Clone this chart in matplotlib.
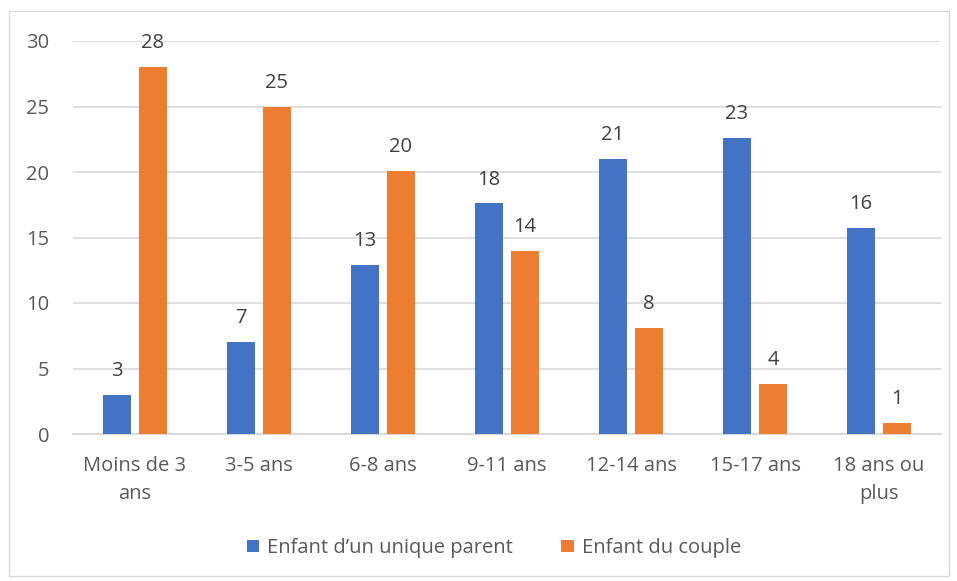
import numpy as np
import matplotlib
matplotlib.use('Agg')
import matplotlib.pyplot as plt
from matplotlib.patches import Rectangle

categories = ['Moins de 3\nans', '3-5 ans', '6-8 ans', '9-11 ans',
              '12-14 ans', '15-17 ans', '18 ans ou\nplus']
single_parent = [3.0, 7.0, 12.9, 17.6, 21.0, 22.6, 15.7]
couple = [28.0, 25.0, 20.1, 14.0, 8.1, 3.8, 0.85]
series_names = ['Enfant d\u2019un unique parent', 'Enfant du couple']

plt.rcParams['font.family'] = ['Open Sans', 'DejaVu Sans']
TXT = '#595959'
GRID = '#d9d9d9'
BLUE = '#4472c4'
ORANGE = '#ed7d31'
FS = 14.5

fig = plt.figure(figsize=(9.57, 5.81), dpi=100)
fig.patch.set_facecolor('white')
fig.patches.append(Rectangle((9 / 957, 1 - 576 / 581), 940 / 957, 565 / 581,
                             transform=fig.transFigure, fill=False,
                             edgecolor=GRID, linewidth=1))

ax = fig.add_axes([73 / 957, 1 - 434 / 581, 868 / 957, 393 / 581])
x = np.arange(len(categories))
w = 0.225
off = 0.145
b1 = ax.bar(x - off, single_parent, w, color=BLUE, label=series_names[0], zorder=3)
b2 = ax.bar(x + off, couple, w, color=ORANGE, label=series_names[1], zorder=3)

for bars, vals in [(b1, single_parent), (b2, couple)]:
    for rect, v in zip(bars, vals):
        ax.annotate(f'{round(v)}', (rect.get_x() + rect.get_width() / 2, v),
                    xytext=(0, 10), textcoords='offset points',
                    ha='center', va='bottom', fontsize=FS, color='#404040')

ax.set_xlim(-0.5, len(categories) - 0.5)
ax.set_ylim(0, 30)
ax.set_yticks(np.arange(0, 31, 5))
ax.yaxis.grid(True, color=GRID, linewidth=1.2, zorder=0)
ax.set_axisbelow(True)
for s in ['top', 'right', 'left']:
    ax.spines[s].set_visible(False)
ax.spines['bottom'].set_color(GRID)
ax.spines['bottom'].set_linewidth(1.5)
ax.tick_params(axis='both', length=0, labelsize=FS, colors=TXT)
ax.tick_params(axis='y', pad=17)
ax.tick_params(axis='x', pad=16)
ax.set_xticks(x)
ax.set_xticklabels(categories, linespacing=1.5)

fig.legend(handles=[b1, b2], labels=series_names, loc='center',
           bbox_to_anchor=(494 / 957, 1 - 548 / 581), ncol=2, frameon=False,
           fontsize=FS, labelcolor=TXT, handlelength=0.6, handleheight=0.6,
           handletextpad=0.4, columnspacing=2.4)

fig.savefig('out.png', dpi=100, facecolor='white')
